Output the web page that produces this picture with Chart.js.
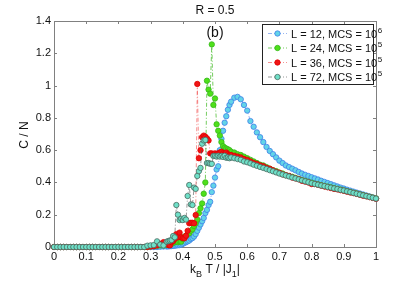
<!DOCTYPE html>
<html>
<head>
<meta charset="utf-8">
<script src="https://cdn.jsdelivr.net/npm/chart.js@4/dist/chart.umd.min.js"></script>
<style>
  body { margin: 0; background: #fff; }
</style>
</head>
<body>
<canvas id="myChart" width="415" height="282"></canvas>
<script>
// temperatures (k_B T / |J1|), finer steps near the transition
const temps = [
  0, 0.01, 0.02, 0.03, 0.04, 0.05, 0.06, 0.07, 0.08, 0.09,
  0.10, 0.11, 0.12, 0.13, 0.14, 0.15, 0.16, 0.17, 0.18, 0.19,
  0.20, 0.21, 0.22, 0.23, 0.24, 0.25, 0.26, 0.27, 0.28, 0.29,
  0.30, 0.31, 0.32, 0.33, 0.34, 0.35,
  0.355, 0.36, 0.365, 0.37, 0.375, 0.38, 0.385, 0.39, 0.395, 0.40,
  0.405, 0.41, 0.415, 0.42, 0.425, 0.43, 0.435, 0.44, 0.445, 0.45,
  0.455, 0.46, 0.465, 0.47, 0.475, 0.48, 0.485, 0.49, 0.495, 0.50,
  0.505, 0.51, 0.515, 0.52, 0.525, 0.53, 0.535, 0.54, 0.545,
  0.55, 0.56, 0.57, 0.58, 0.59, 0.60,
  0.61, 0.62, 0.63, 0.64, 0.65, 0.66, 0.67, 0.68, 0.69, 0.70,
  0.71, 0.72, 0.73, 0.74, 0.75, 0.76, 0.77, 0.78, 0.79, 0.80,
  0.81, 0.82, 0.83, 0.84, 0.85, 0.86, 0.87, 0.88, 0.89, 0.90,
  0.91, 0.92, 0.93, 0.94, 0.95, 0.96, 0.97, 0.98, 0.99, 1.00
];

// C / N for each lattice size
const cL12 = [
  0, 0, 0, 0, 0, 0, 0, 0, 0, 0,
  0, 0, 0, 0, 0, 0, 0, 0, 0, 0,
  0, 0, 0, 0, 0, 0, 0, 0, 0, 0,
  0, 0, 0, 0.002, 0.003, 0.003,
  0.004, 0.005, 0.006, 0.007, 0.008, 0.01, 0.011, 0.012, 0.015, 0.02,
  0.025, 0.03, 0.035, 0.04, 0.05, 0.055, 0.065, 0.08, 0.1, 0.12,
  0.14, 0.16, 0.18, 0.21, 0.23, 0.26, 0.28, 0.34, 0.38, 0.43,
  0.48, 0.5, 0.6, 0.67, 0.72, 0.77, 0.81, 0.85, 0.88,
  0.9, 0.925, 0.93, 0.915, 0.88, 0.845,
  0.78, 0.745, 0.71, 0.68, 0.65, 0.62, 0.595, 0.575, 0.555, 0.535,
  0.52, 0.505, 0.495, 0.485, 0.475, 0.465, 0.455, 0.447, 0.44, 0.432,
  0.425, 0.418, 0.41, 0.403, 0.396, 0.389, 0.382, 0.375, 0.368, 0.362,
  0.355, 0.349, 0.343, 0.337, 0.331, 0.325, 0.319, 0.313, 0.307, 0.3
];
const cL24 = [
  0, 0, 0, 0, 0, 0, 0, 0, 0, 0,
  0, 0, 0, 0, 0, 0, 0, 0, 0, 0,
  0, 0, 0, 0, 0, 0, 0, 0, 0, 0,
  0.003, 0.005, 0.008, 0.01, 0.01, 0.012,
  0.015, 0.02, 0.02, 0.025, 0.03, 0.033, 0.03, 0.035, 0.033, 0.05,
  0.064, 0.07, 0.08, 0.085, 0.1, 0.11, 0.13, 0.147, 0.17, 0.21,
  0.24, 0.27, 0.33, 0.4, 1.03, 0.975, 0.95, 1.255, 0.88, 0.92,
  0.76, 0.72, 0.69, 0.65, 0.625, 0.615, 0.61, 0.605, 0.6,
  0.59, 0.585, 0.575, 0.57, 0.56, 0.55,
  0.54, 0.53, 0.52, 0.51, 0.505, 0.495, 0.485, 0.475, 0.47, 0.46,
  0.455, 0.445, 0.44, 0.435, 0.428, 0.422, 0.415, 0.41, 0.404, 0.398,
  0.392, 0.388, 0.383, 0.378, 0.374, 0.369, 0.364, 0.36, 0.355, 0.35,
  0.346, 0.341, 0.336, 0.331, 0.326, 0.321, 0.316, 0.311, 0.306, 0.301
];
const cL36 = [
  0, 0, 0, 0, 0, 0, 0, 0, 0, 0,
  0, 0, 0, 0, 0, 0, 0, 0, 0, 0,
  0, 0, 0, 0, 0, 0, 0, 0, 0, 0,
  0.003, 0.005, 0.01, 0.02, 0.03, 0.02,
  0.012, 0.01, 0.03, 0.037, 0.05, 0.08, 0.06, 0.089, 0.06, 0.055,
  0.054, 0.07, 0.1, 0.147, 0.15, 0.15, 0.147, 0.198, 1.01, 0.55,
  0.6, 0.68, 0.69, 0.683, 0.673, 0.66, 0.58, 0.58, 0.575, 0.58,
  0.575, 0.58, 0.585, 0.59, 0.58, 0.575, 0.585, 0.575, 0.57,
  0.57, 0.565, 0.56, 0.555, 0.545, 0.54,
  0.53, 0.52, 0.515, 0.505, 0.5, 0.49, 0.485, 0.475, 0.465, 0.46,
  0.45, 0.445, 0.44, 0.43, 0.425, 0.42, 0.41, 0.405, 0.4, 0.39,
  0.39, 0.385, 0.38, 0.375, 0.37, 0.365, 0.36, 0.357, 0.352, 0.348,
  0.343, 0.338, 0.334, 0.329, 0.324, 0.318, 0.314, 0.309, 0.304, 0.299
];
const cL72 = [
  0, 0, 0, 0, 0, 0, 0, 0, 0, 0,
  0, 0, 0, 0, 0, 0, 0, 0, 0, 0,
  0, 0, 0, 0, 0, 0, 0, 0, 0, 0.008,
  0.01, 0.012, 0.035, 0.015, 0.01, 0.033,
  0.037, 0.04, 0.043, 0.068, 0.06, 0.26, 0.2, 0.167, 0.175, 0.167,
  0.18, 0.17, 0.316, 0.384, 0.264, 0.26, 0.368, 0.36, 0.44, 0.47,
  0.49, 0.64, 0.66, 0.663, 0.52, 0.52, 0.516, 0.515, 0.564, 0.564,
  0.56, 0.565, 0.56, 0.564, 0.558, 0.565, 0.553, 0.555, 0.55,
  0.555, 0.55, 0.545, 0.54, 0.53, 0.525,
  0.518, 0.51, 0.503, 0.496, 0.49, 0.483, 0.476, 0.469, 0.462, 0.455,
  0.449, 0.443, 0.437, 0.431, 0.425, 0.419, 0.413, 0.407, 0.401, 0.395,
  0.39, 0.386, 0.381, 0.377, 0.372, 0.368, 0.363, 0.359, 0.354, 0.35,
  0.345, 0.34, 0.335, 0.33, 0.325, 0.32, 0.315, 0.31, 0.305, 0.3
];

const xTicks = [0, 0.1, 0.2, 0.3, 0.4, 0.5, 0.6, 0.7, 0.8, 0.9, 1];
const yTicks = [0, 0.2, 0.4, 0.6, 0.8, 1, 1.2, 1.4];

const legendNames = ['L = 12, MCS = 10', 'L = 24, MCS = 10', 'L = 36, MCS = 10', 'L = 72, MCS = 10'];
const legendExps = ['6', '5', '5', '5'];

const FONT = '"Liberation Sans", Arial, sans-serif';
const dashDot = [4, 2, 1, 2];

function toPoints(vals) {
  return temps.map(function(t, i) { return { x: t, y: vals[i] }; });
}

function makeSet(label, vals, lineCol, fillCol, edgeCol, order) {
  return {
    label: label,
    data: toPoints(vals),
    borderColor: lineCol,
    borderWidth: 0.8,
    borderDash: dashDot,
    pointRadius: 2.7,
    pointBorderWidth: 0.8,
    pointBackgroundColor: fillCol,
    pointBorderColor: edgeCol,
    tension: 0,
    clip: false,
    order: order
  };
}

// draws frame, inward ticks, titles and the legend (with sub/superscripts)
const decorPlugin = {
  id: 'decor',
  beforeDatasetsDraw: function(chart) {
    const ctx = chart.ctx;
    const a = chart.chartArea;
    const xs = chart.scales.x, ys = chart.scales.y;
    ctx.save();
    ctx.strokeStyle = '#808080';
    ctx.lineWidth = 1;
    ctx.strokeRect(a.left + 0.5, a.top + 0.5, a.right - a.left, a.bottom - a.top);
    ctx.beginPath();
    xTicks.forEach(function(v) {
      const px = Math.round(xs.getPixelForValue(v)) + 0.5;
      ctx.moveTo(px, a.bottom); ctx.lineTo(px, a.bottom - 3);
      ctx.moveTo(px, a.top); ctx.lineTo(px, a.top + 3);
    });
    yTicks.forEach(function(v) {
      const py = Math.round(ys.getPixelForValue(v)) + 0.5;
      ctx.moveTo(a.left, py); ctx.lineTo(a.left + 3, py);
      ctx.moveTo(a.right, py); ctx.lineTo(a.right - 3, py);
    });
    ctx.stroke();
    ctx.restore();
  },
  afterDraw: function(chart) {
    const ctx = chart.ctx;
    const a = chart.chartArea;
    const cx = (a.left + a.right) / 2;
    ctx.save();
    ctx.fillStyle = '#111';
    ctx.textBaseline = 'middle';
    ctx.textAlign = 'center';
    ctx.font = '12px ' + FONT;
    ctx.fillText('R = 0.5', cx, 11);
    ctx.font = '14px ' + FONT;
    ctx.fillText('(b)', cx, 33);

    // y axis title
    ctx.save();
    ctx.translate(25, 135);
    ctx.rotate(-Math.PI / 2);
    ctx.font = '12px ' + FONT;
    ctx.fillText('C / N', 0, 0);
    ctx.restore();

    // x axis title with subscripts
    const parts = [['k', 0], ['B', 1], [' T / |J', 0], ['1', 1], ['|', 0]];
    ctx.textAlign = 'left';
    let total = 0;
    parts.forEach(function(p) {
      ctx.font = (p[1] ? '9px ' : '12px ') + FONT;
      total += ctx.measureText(p[0]).width;
    });
    let xx = cx - total / 2;
    parts.forEach(function(p) {
      ctx.font = (p[1] ? '9px ' : '12px ') + FONT;
      ctx.fillText(p[0], xx, p[1] ? 275 : 270);
      xx += ctx.measureText(p[0]).width;
    });

    // legend
    const bx = 262.5, by = 24.5, bw = 111, bh = 60;
    ctx.fillStyle = '#fff';
    ctx.fillRect(bx, by, bw, bh);
    ctx.strokeStyle = '#222';
    ctx.lineWidth = 1;
    ctx.strokeRect(bx, by, bw, bh);
    chart.data.datasets.forEach(function(ds, i) {
      const ly = 33.5 + i * 14.5;
      ctx.save();
      ctx.strokeStyle = ds.borderColor;
      ctx.lineWidth = ds.borderWidth;
      ctx.setLineDash(dashDot);
      ctx.beginPath();
      ctx.moveTo(268, ly); ctx.lineTo(287, ly);
      ctx.stroke();
      ctx.setLineDash([]);
      ctx.beginPath();
      ctx.arc(277.5, ly, 2.7, 0, Math.PI * 2);
      ctx.fillStyle = ds.pointBackgroundColor;
      ctx.fill();
      ctx.lineWidth = ds.pointBorderWidth;
      ctx.strokeStyle = ds.pointBorderColor;
      ctx.stroke();
      ctx.restore();
      ctx.fillStyle = '#111';
      ctx.font = '11px ' + FONT;
      ctx.fillText(legendNames[i], 291, ly + 1);
      const w = ctx.measureText(legendNames[i]).width;
      ctx.font = '8px ' + FONT;
      ctx.fillText(legendExps[i], 291 + w + 0.5, ly - 3);
    });
    ctx.restore();
  }
};

let chartArea = document.getElementById('myChart').getContext('2d');

const myChart = new Chart(chartArea, {
  type: 'line',
  data: {
    datasets: [
      makeSet('L = 12', cL12, 'rgba(80,130,235,0.75)', '#62d4e8', '#3f7fe8', 4),
      makeSet('L = 24', cL24, 'rgba(50,180,20,0.85)', '#4fe01a', '#36b81c', 3),
      makeSet('L = 36', cL36, 'rgba(240,70,70,0.75)', '#f01515', '#e00000', 2),
      makeSet('L = 72', cL72, 'rgba(80,80,80,0.75)', '#6ee0c8', '#4a6a60', 1)
    ]
  },
  options: {
    responsive: false,
    animation: false,
    layout: { padding: { top: 21, right: 39, bottom: 0, left: 0 } },
    plugins: {
      legend: { display: false },
      title: { display: false },
      tooltip: { enabled: false }
    },
    scales: {
      x: {
        type: 'linear',
        min: 0, max: 1,
        grid: { display: false, drawTicks: false, tickLength: 0 },
        border: { display: false },
        afterFit: function(scale) { scale.height = 35; },
        afterBuildTicks: function(scale) {
          scale.ticks = xTicks.map(function(v) { return { value: v }; });
        },
        ticks: {
          autoSkip: false,
          maxRotation: 0,
          padding: 3,
          color: '#111',
          font: { family: FONT, size: 11 },
          callback: function(v) { return String(v); }
        }
      },
      y: {
        type: 'linear',
        min: 0, max: 1.4,
        grid: { display: false, drawTicks: false, tickLength: 0 },
        border: { display: false },
        afterFit: function(scale) { scale.width = 54; },
        afterBuildTicks: function(scale) {
          scale.ticks = yTicks.map(function(v) { return { value: v }; });
        },
        ticks: {
          autoSkip: false,
          padding: 3,
          color: '#111',
          font: { family: FONT, size: 11 },
          callback: function(v) { return String(v); }
        }
      }
    }
  },
  plugins: [decorPlugin]
});
</script>
</body>
</html>
